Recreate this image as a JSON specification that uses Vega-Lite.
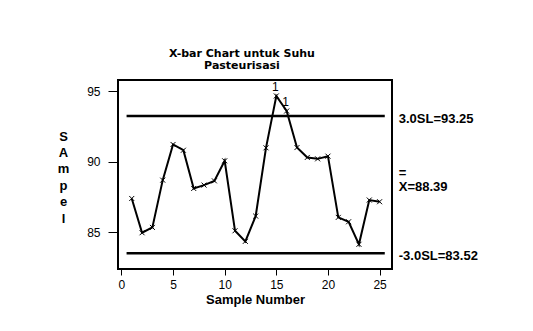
{
  "$schema": "https://vega.github.io/schema/vega-lite/v6.json",
  "width": 274,
  "height": 189,
  "autosize": {"type": "none"},
  "padding": {"left": 118, "top": 80, "right": 141, "bottom": 62},
  "background": "white",
  "config": {
    "view": {"stroke": "black", "strokeWidth": 2},
    "font": "Liberation Sans"
  },
  "title": {
    "text": ["X-bar Chart untuk Suhu", "Pasteurisasi"],
    "font": "DejaVu Sans",
    "fontSize": 11,
    "fontWeight": "bold",
    "lineHeight": 12,
    "anchor": "middle",
    "dx": -13,
    "offset": 9,
    "color": "black"
  },
  "datasets": {
    "samples": [
      {"sample": 1, "value": 87.4},
      {"sample": 2, "value": 84.97},
      {"sample": 3, "value": 85.35},
      {"sample": 4, "value": 88.7},
      {"sample": 5, "value": 91.23},
      {"sample": 6, "value": 90.82},
      {"sample": 7, "value": 88.11},
      {"sample": 8, "value": 88.35},
      {"sample": 9, "value": 88.65},
      {"sample": 10, "value": 90.07},
      {"sample": 11, "value": 85.11},
      {"sample": 12, "value": 84.36},
      {"sample": 13, "value": 86.15},
      {"sample": 14, "value": 90.99},
      {"sample": 15, "value": 94.67, "flag": "1"},
      {"sample": 16, "value": 93.6, "flag": "1"},
      {"sample": 17, "value": 91.01},
      {"sample": 18, "value": 90.31},
      {"sample": 19, "value": 90.21},
      {"sample": 20, "value": 90.4},
      {"sample": 21, "value": 86.06},
      {"sample": 22, "value": 85.75},
      {"sample": 23, "value": 84.15},
      {"sample": 24, "value": 87.29},
      {"sample": 25, "value": 87.17}
    ],
    "limits": [
      {"start": 0.5, "end": 25.5, "value": 93.25, "label": "3.0SL=93.25", "drawn": true},
      {"start": 0.5, "end": 25.5, "value": 88.39, "label": "=\nX=88.39", "drawn": false},
      {"start": 0.5, "end": 25.5, "value": 83.52, "label": "-3.0SL=83.52", "drawn": true}
    ]
  },
  "layer": [
    {
      "data": {"name": "limits"},
      "transform": [{"filter": "datum.drawn"}],
      "mark": {"type": "rule", "color": "black", "strokeWidth": 2.5},
      "encoding": {
        "x": {
          "field": "start",
          "type": "quantitative",
          "scale": {"domain": [-0.33, 26.2], "nice": false, "zero": false},
          "axis": {
            "values": [0, 5, 10, 15, 20, 25],
            "title": "Sample Number",
            "titleFont": "Liberation Sans",
            "titleFontSize": 13,
            "titleFontWeight": "bold",
            "titleColor": "black",
            "titlePadding": 3,
            "labelFont": "Liberation Sans",
            "labelFontSize": 12,
            "labelColor": "black",
            "labelPadding": 4,
            "tickSize": 6,
            "tickColor": "black",
            "domain": false,
            "grid": false
          }
        },
        "x2": {"field": "end"},
        "y": {
          "field": "value",
          "type": "quantitative",
          "scale": {"domain": [82.4, 95.8], "nice": false, "zero": false},
          "axis": {
            "values": [85, 90, 95],
            "title": ["S", "A", "m", "p", "e", "l"],
            "titleAngle": 0,
            "titleAlign": "center",
            "titleBaseline": "middle",
            "titleLineHeight": 16.4,
            "titleX": -55,
            "titleY": 56,
            "titleFont": "Liberation Sans",
            "titleFontSize": 13,
            "titleFontWeight": "bold",
            "titleColor": "black",
            "labelFont": "Liberation Sans",
            "labelFontSize": 12,
            "labelColor": "black",
            "labelPadding": 8,
            "tickSize": 10,
            "tickColor": "black",
            "domain": false,
            "grid": false
          }
        }
      }
    },
    {
      "data": {"name": "limits"},
      "transform": [{"filter": "datum.drawn"}],
      "mark": {
        "type": "text",
        "align": "left",
        "baseline": "middle",
        "dx": 14,
        "dy": 3,
        "font": "Liberation Sans",
        "fontSize": 13,
        "fontWeight": "bold",
        "fill": "black",
        "clip": false
      },
      "encoding": {
        "x": {"field": "end", "type": "quantitative"},
        "y": {"field": "value", "type": "quantitative"},
        "text": {"field": "label"}
      }
    },
    {
      "data": {"name": "limits"},
      "transform": [{"filter": "!datum.drawn"}],
      "mark": {
        "type": "text",
        "align": "left",
        "baseline": "middle",
        "dx": 14,
        "dy": -11.5,
        "font": "Liberation Sans",
        "fontSize": 13,
        "fontWeight": "bold",
        "lineBreak": "\n",
        "lineHeight": 14,
        "fill": "black",
        "clip": false
      },
      "encoding": {
        "x": {"field": "end", "type": "quantitative"},
        "y": {"field": "value", "type": "quantitative"},
        "text": {"field": "label"}
      }
    },
    {
      "data": {"name": "samples"},
      "mark": {"type": "line", "color": "black", "strokeWidth": 2},
      "encoding": {
        "x": {"field": "sample", "type": "quantitative"},
        "y": {"field": "value", "type": "quantitative"}
      }
    },
    {
      "data": {"name": "samples"},
      "mark": {
        "type": "point",
        "shape": "M-1,-1L1,1M-1,1L1,-1",
        "filled": false,
        "color": "black",
        "strokeWidth": 1,
        "size": 25,
        "opacity": 1
      },
      "encoding": {
        "x": {"field": "sample", "type": "quantitative"},
        "y": {"field": "value", "type": "quantitative"}
      }
    },
    {
      "data": {"name": "samples"},
      "transform": [{"filter": "isValid(datum.flag)"}],
      "mark": {
        "type": "text",
        "dy": -9,
        "dx": -1,
        "font": "Liberation Sans",
        "fontSize": 12,
        "fill": "black"
      },
      "encoding": {
        "x": {"field": "sample", "type": "quantitative"},
        "y": {"field": "value", "type": "quantitative"},
        "text": {"field": "flag"}
      }
    }
  ]
}
